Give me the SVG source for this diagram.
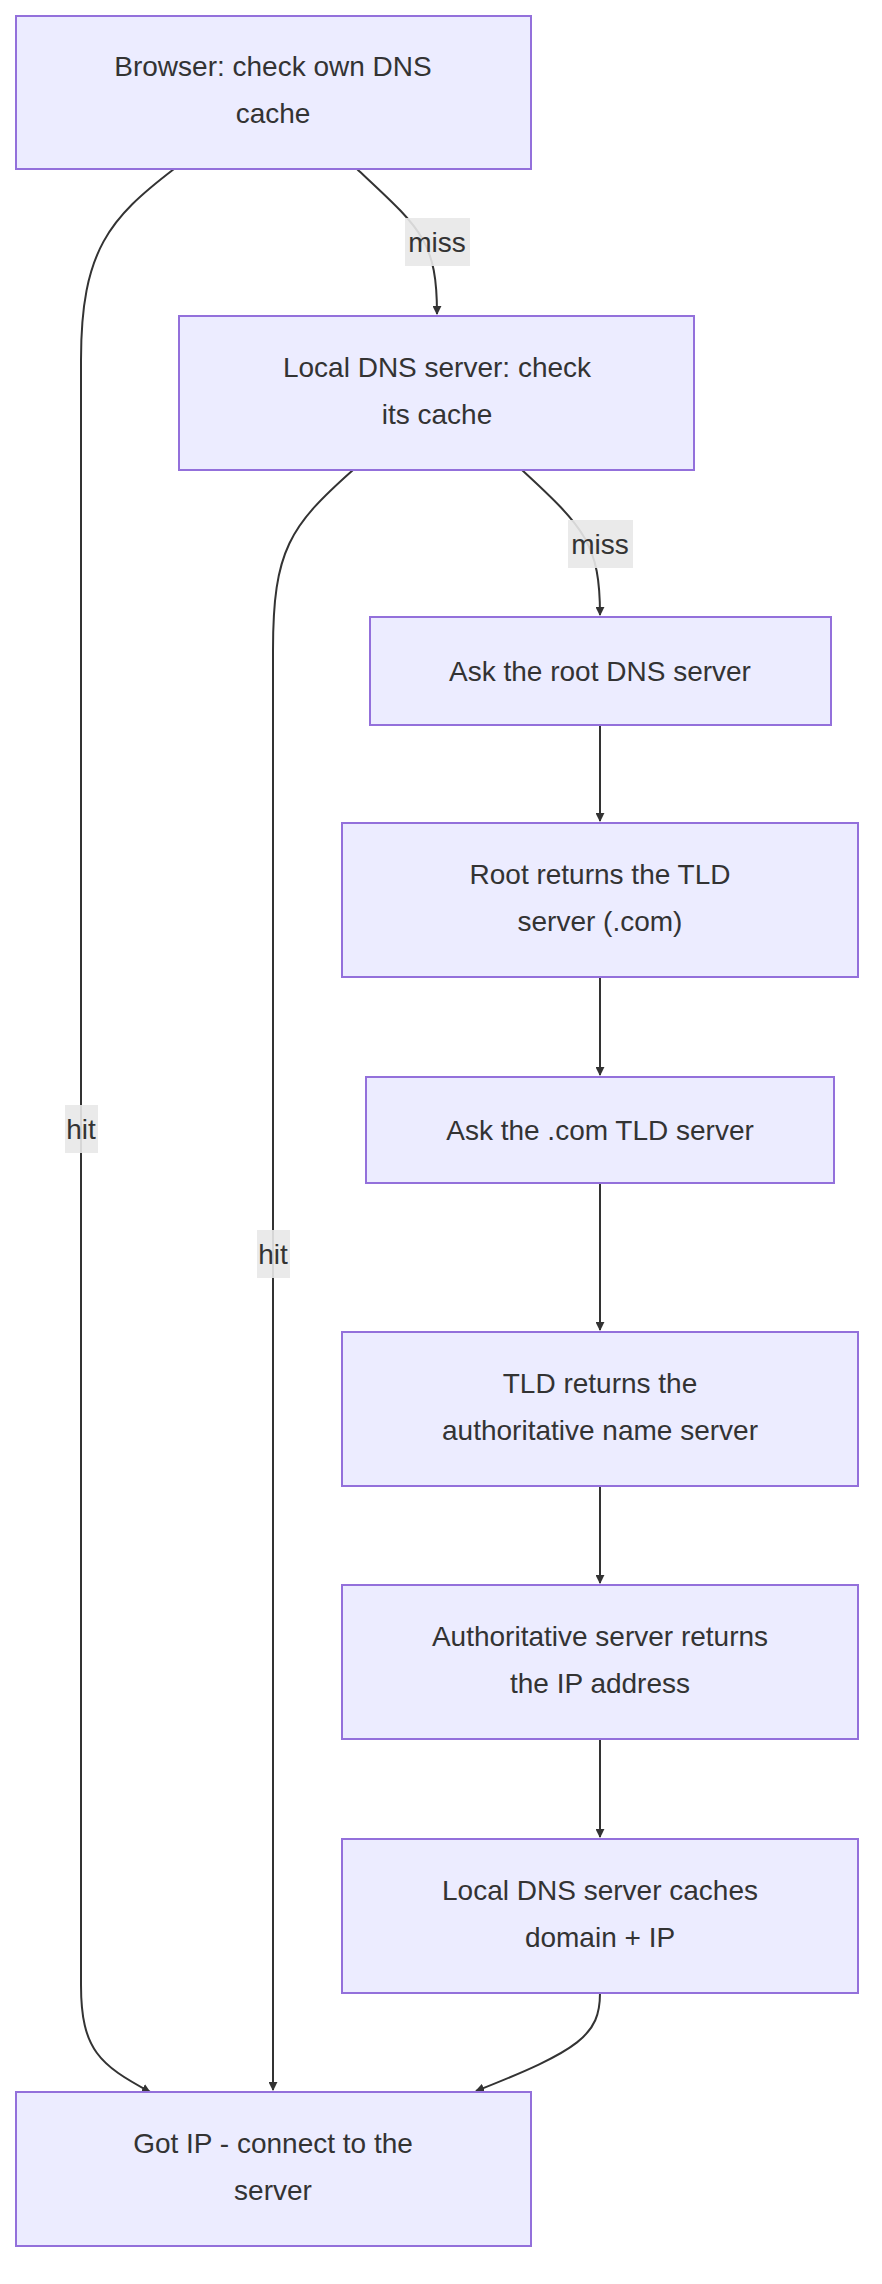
<svg xmlns="http://www.w3.org/2000/svg" width="882" height="2284" viewBox="0 0 882 2284">
<defs>
<marker id="ah" viewBox="0 0 10 10" refX="9" refY="5" markerWidth="9" markerHeight="9" markerUnits="userSpaceOnUse" orient="auto"><path d="M0,0 L10,5 L0,10 z" fill="#333"/></marker>
<style>
.n rect{fill:#ECECFF;stroke:#9370DB;stroke-width:2}
text{font-family:"Liberation Sans",Arial,sans-serif;font-size:28px;fill:#333;text-anchor:middle}
.e path{fill:none;stroke:#333;stroke-width:2;marker-end:url(#ah)}
.lb rect{fill:#e8e8e8;opacity:0.9}
</style>
</defs>
<rect width="882" height="2284" fill="#fff"/>
<g class="e">
<path d="M174,169 C110,218 81,250 81,360 L81,1985 C81,2050 100,2065 150,2092"/>
<path d="M357,169 C420,228 437,240 437,314"/>
<path d="M353,470 C290,526 273,550 273,650 L273,2090"/>
<path d="M522,470 C585,528 600,545 600,615"/>
<path d="M600,725 L600,821"/>
<path d="M600,977 L600,1075"/>
<path d="M600,1183 L600,1330"/>
<path d="M600,1486 L600,1583"/>
<path d="M600,1739 L600,1837"/>
<path d="M600,1993 C600,2035 580,2050 476,2091"/>
</g>
<g class="lb">
<rect x="405" y="218" width="65" height="48"/><text x="437" y="252">miss</text>
<rect x="568" y="520" width="65" height="48"/><text x="600" y="554">miss</text>
<rect x="65" y="1105" width="33" height="48"/><text x="81" y="1139">hit</text>
<rect x="257" y="1230" width="33" height="48"/><text x="273" y="1264">hit</text>
</g>
<g id="n1" class="n"><rect x="16" y="16" width="515" height="153"/><text x="273" y="76">Browser: check own DNS</text><text x="273" y="123">cache</text></g>
<g id="n2" class="n"><rect x="179" y="316" width="515" height="154"/><text x="437" y="377">Local DNS server: check</text><text x="437" y="424">its cache</text></g>
<g id="n3" class="n"><rect x="370" y="617" width="461" height="108"/><text x="600" y="681">Ask the root DNS server</text></g>
<g id="n4" class="n"><rect x="342" y="823" width="516" height="154"/><text x="600" y="884">Root returns the TLD</text><text x="600" y="931">server (.com)</text></g>
<g id="n5" class="n"><rect x="366" y="1077" width="468" height="106"/><text x="600" y="1140">Ask the .com TLD server</text></g>
<g id="n6" class="n"><rect x="342" y="1332" width="516" height="154"/><text x="600" y="1393">TLD returns the</text><text x="600" y="1440">authoritative name server</text></g>
<g id="n7" class="n"><rect x="342" y="1585" width="516" height="154"/><text x="600" y="1646">Authoritative server returns</text><text x="600" y="1693">the IP address</text></g>
<g id="n8" class="n"><rect x="342" y="1839" width="516" height="154"/><text x="600" y="1900">Local DNS server caches</text><text x="600" y="1947">domain + IP</text></g>
<g id="n9" class="n"><rect x="16" y="2092" width="515" height="154"/><text x="273" y="2153">Got IP - connect to the</text><text x="273" y="2200">server</text></g>
</svg>
